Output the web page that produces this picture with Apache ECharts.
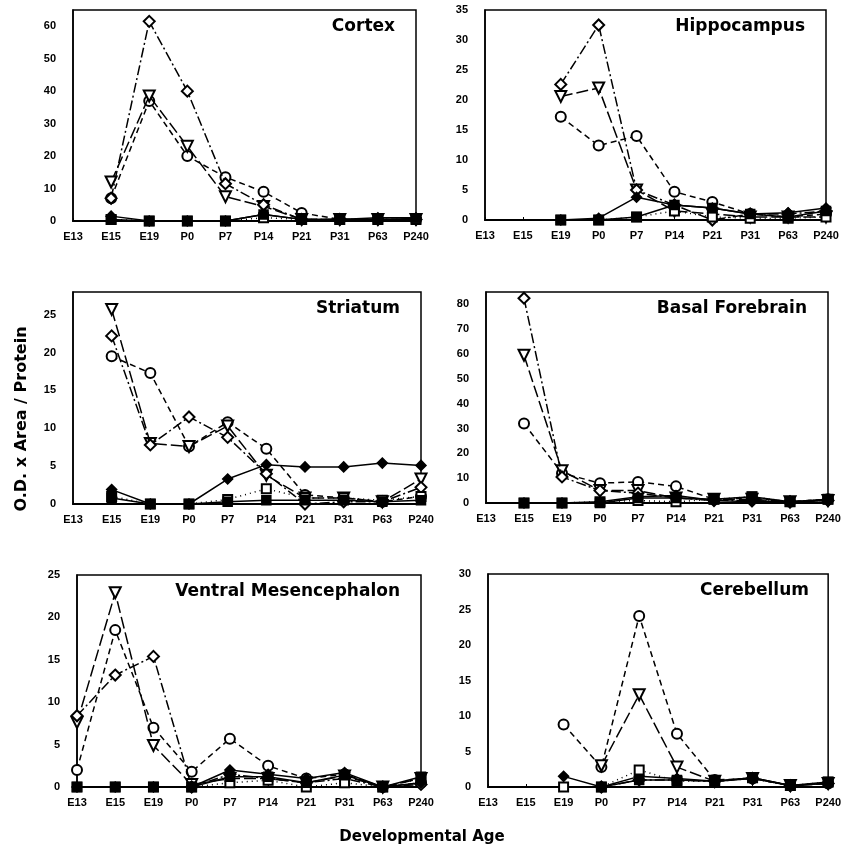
<!DOCTYPE html>
<html>
<head>
<meta charset="utf-8">
<script src="https://cdn.jsdelivr.net/npm/echarts@6/dist/echarts.min.js"></script>
<style>
  html, body { margin: 0; padding: 0; background: #fff; }
  #chart { width: 844px; height: 857px; }
</style>
</head>
<body>
<div id="chart"></div>
<script>
// developmental ages on the x axis
var ages = ['E13', 'E15', 'E19', 'P0', 'P7', 'P14', 'P21', 'P31', 'P63', 'P240'];

// Cortex
var cortexCircle        = [null, 7, 37, 20, 13.5, 9, 2.5, 0.5, 0.5, 0.5];
var cortexTriangle      = [null, 12, 38.5, 23, 7.5, 4.5, 0.5, 0.5, 0.5, 0.5];
var cortexDiamondOpen   = [null, 7, 61.5, 40, 11.5, 5, 0.5, 0.5, 0.5, 0.5];
var cortexDiamondFilled = [null, 1.5, 0, 0, 0, 2, 0.5, 0.5, 1, 1];
var cortexSquareOpen    = [null, 0.5, 0, 0, 0, 1, 0.5, 0.5, 0.5, 0.5];
var cortexSquareFilled  = [null, 0.5, 0, 0, 0, 2, 0.5, 0.5, 0.5, 0.8];

// Hippocampus
var hippoCircle        = [null, null, 17.2, 12.4, 14, 4.7, 3, 1, 0.5, 1];
var hippoTriangle      = [null, null, 20.6, 22, 5, 1.5, 1, 0.5, 0.5, 0.5];
var hippoDiamondOpen   = [null, null, 22.6, 32.5, 5, 2.5, 0, 1, 1, 1.5];
var hippoDiamondFilled = [null, null, 0, 0.3, 3.8, 2.5, 2, 1, 1.2, 2];
var hippoSquareOpen    = [null, null, 0, 0, 0.5, 1.5, 0.5, 0.3, 0.3, 0.5];
var hippoSquareFilled  = [null, null, 0, 0, 0.5, 2.5, 2, 1, 0.5, 1.5];

// Striatum
var striatCircle        = [null, 19.5, 17.3, 7.6, 10.8, 7.3, 1.2, 0.8, 0.3, 1];
var striatTriangle      = [null, 25.7, 8, 7.6, 10.3, 3.8, 0.8, 0.8, 0.3, 3.3];
var striatDiamondOpen   = [null, 22.2, 7.8, 11.5, 8.8, 4, 0, 0.3, 0.3, 2.2];
var striatDiamondFilled = [null, 1.9, 0, 0, 3.3, 5.2, 4.9, 4.9, 5.4, 5.1];
var striatSquareOpen    = [null, 1, 0, 0, 0.6, 2, 0.8, 0.8, 0.5, 1];
var striatSquareFilled  = [null, 0.8, 0, 0, 0.3, 0.5, 0.5, 0.5, 0.3, 0.5];

// Basal Forebrain
var basalCircle        = [null, 32, 12, 8, 8.5, 6.7, 1.5, 2, 0.5, 1.5];
var basalTriangle      = [null, 59.5, 13, 5, 5, 2, 1.5, 1.5, 0.5, 1];
var basalDiamondOpen   = [null, 82.5, 10.5, 5, 4, 2, 1, 1, 0.5, 1];
var basalDiamondFilled = [null, 0, 0, 0.5, 2.5, 3, 1, 0.5, 0.5, 1];
var basalSquareOpen    = [null, 0, 0, 0.5, 1, 0.5, 1.5, 2.5, 0.5, 1.5];
var basalSquareFilled  = [null, 0, 0, 0, 2, 2, 1.5, 2.5, 0.5, 1.5];

// Ventral Mesencephalon
var vmCircle        = [2, 18.5, 7, 1.8, 5.7, 2.5, 1, 1.5, 0, 0.5];
var vmTriangle      = [7.6, 22.9, 4.9, 0.3, 1, 1, 0.5, 1.3, 0, 1];
var vmDiamondOpen   = [8.4, 13.2, 15.4, 0, 1.5, 1, 0.5, 1, 0, 0.3];
var vmDiamondFilled = [0, 0, 0, 0, 2, 1.5, 1, 1.7, 0, 0.5];
var vmSquareOpen    = [0, 0, 0, 0, 0.5, 0.8, 0, 0.5, 0, 1];
var vmSquareFilled  = [0, 0, 0, 0, 1.2, 1.2, 0.5, 1.4, 0, 1.2];

// Cerebellum
var cbCircle        = [null, null, 8.8, 2.8, 24.1, 7.5, 1, 1.2, 0.2, 0.5];
var cbTriangle      = [null, null, null, 3, 13, 2.8, 0.8, 1.2, 0.2, 0.5];
var cbDiamondOpen   = [null, null, null, 0, 1, 1, 0.8, 1.2, 0.2, 0.5];
var cbDiamondFilled = [null, null, 1.5, 0, 1.5, 1.2, 0.8, 1.3, 0.2, 0.5];
var cbSquareOpen    = [null, null, 0, 0, 2.4, 0.8, 0.8, 1.3, 0.2, 0.7];
var cbSquareFilled  = [null, null, null, 0, 1, 1, 0.8, 1.3, 0.2, 0.7];

var FONT = '"Liberation Sans", Arial, sans-serif';
var WIDE = '"DejaVu Sans", sans-serif';

// one entry per panel
var panels = [
  { title: 'Cortex', max: 65, step: 10, box: [73, 10, 343, 211],
    data: [cortexCircle, cortexTriangle, cortexDiamondOpen, cortexDiamondFilled, cortexSquareOpen, cortexSquareFilled] },
  { title: 'Hippocampus', max: 35, step: 5, box: [485, 10, 341, 210],
    data: [hippoCircle, hippoTriangle, hippoDiamondOpen, hippoDiamondFilled, hippoSquareOpen, hippoSquareFilled] },
  { title: 'Striatum', max: 28, step: 5, box: [73, 292, 348, 212],
    data: [striatCircle, striatTriangle, striatDiamondOpen, striatDiamondFilled, striatSquareOpen, striatSquareFilled] },
  { title: 'Basal Forebrain', max: 85, step: 10, box: [486, 292, 342, 211],
    data: [basalCircle, basalTriangle, basalDiamondOpen, basalDiamondFilled, basalSquareOpen, basalSquareFilled] },
  { title: 'Ventral Mesencephalon', max: 25, step: 5, box: [77, 575, 344, 212],
    data: [vmCircle, vmTriangle, vmDiamondOpen, vmDiamondFilled, vmSquareOpen, vmSquareFilled] },
  { title: 'Cerebellum', max: 30, step: 5, box: [488, 574, 342, 213],
    data: [cbCircle, cbTriangle, cbDiamondOpen, cbDiamondFilled, cbSquareOpen, cbSquareFilled] }
];

// marker + dash style of each of the six series
var looks = [
  { symbol: 'emptyCircle', size: 10, rotate: 0, dash: [6, 4] },
  { symbol: 'emptyTriangle', size: 11, rotate: 180, dash: [12, 4] },
  { symbol: 'emptyDiamond', size: 11, rotate: 0, dash: [10, 3, 2, 3] },
  { symbol: 'diamond', size: 10, rotate: 0, dash: 'solid' },
  { symbol: 'emptyRect', size: 9, rotate: 0, dash: [1, 4] },
  { symbol: 'rect', size: 9, rotate: 0, dash: 'solid' }
];

var grids = [], xAxes = [], yAxes = [], series = [], graphics = [];

panels.forEach(function (p, i) {
  grids.push({
    left: p.box[0], top: p.box[1], width: p.box[2], height: p.box[3],
    show: true, borderColor: '#000', borderWidth: 1.5, backgroundColor: '#fff'
  });
  xAxes.push({
    type: 'category', gridIndex: i, data: ages, boundaryGap: false,
    axisLine: { lineStyle: { color: '#000', width: 2 } },
    axisTick: { show: true, inside: true, length: 3, lineStyle: { color: '#000' } },
    axisLabel: { interval: 0, color: '#000', fontWeight: 'bold', fontSize: 11, fontFamily: FONT, margin: 10 },
    splitLine: { show: false }
  });
  yAxes.push({
    type: 'value', gridIndex: i, min: 0, max: p.max, interval: p.step,
    axisLine: { show: true, lineStyle: { color: '#000', width: 1.5 } },
    axisTick: { show: false },
    splitLine: { show: false },
    axisLabel: {
      color: '#000', fontWeight: 'bold', fontSize: 11, fontFamily: FONT, margin: 17,
      formatter: function (v) { return v % p.step === 0 ? String(v) : ''; }
    }
  });
  p.data.forEach(function (vals, k) {
    var lk = looks[k];
    series.push({
      type: 'line', xAxisIndex: i, yAxisIndex: i, data: vals,
      symbol: lk.symbol, symbolSize: lk.size, symbolRotate: lk.rotate,
      showAllSymbol: true, connectNulls: false, animation: false,
      lineStyle: { color: '#000', width: 1.5, type: lk.dash },
      itemStyle: { color: '#000', borderColor: '#000', borderWidth: 1.5 },
      z: 2 + k
    });
  });
  graphics.push({
    type: 'text',
    right: 844 - (p.box[0] + p.box[2]) + 21,
    top: p.box[1] + 8,
    style: { text: p.title, font: 'bold 17px ' + WIDE, fill: '#000' }
  });
});

// shared axis titles
graphics.push({
  type: 'text', x: 22, y: 419, rotation: Math.PI / 2,
  style: { text: 'O.D. x Area / Protein', font: 'bold 16px ' + WIDE, fill: '#000',
           textAlign: 'center', textVerticalAlign: 'middle' }
});
graphics.push({
  type: 'text', left: 'center', top: 830,
  style: { text: 'Developmental Age', font: 'bold 15px ' + WIDE, fill: '#000' }
});

var chart = echarts.init(document.getElementById('chart'), null, { renderer: 'canvas' });
chart.setOption({
  backgroundColor: '#fff',
  animation: false,
  grid: grids,
  xAxis: xAxes,
  yAxis: yAxes,
  series: series,
  graphic: graphics
});
</script>
</body>
</html>
